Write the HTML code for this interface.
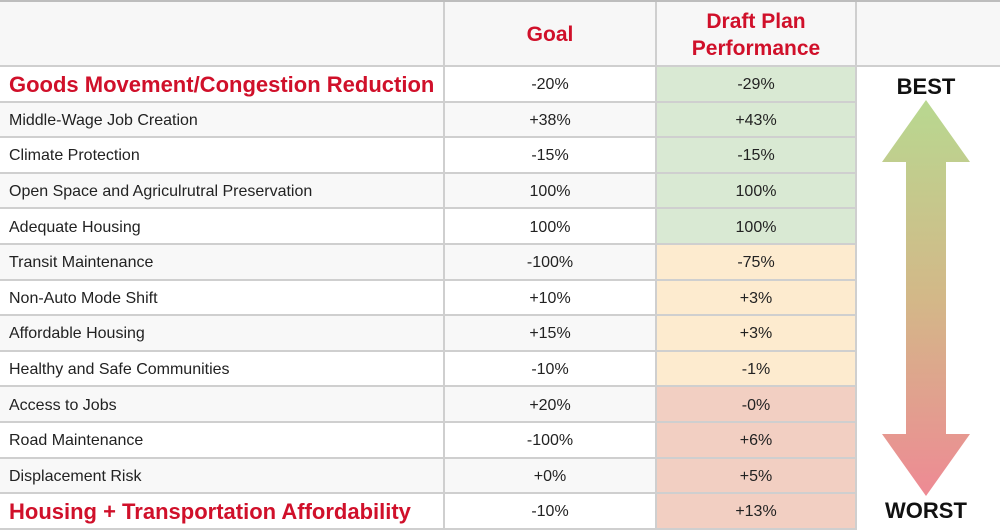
<!DOCTYPE html>
<html><head><meta charset="utf-8"><style>
body{margin:0;width:1000px;height:530px;overflow:hidden;background:#fff;font-family:"Liberation Sans",sans-serif;position:relative}
.c{position:absolute;box-sizing:border-box;display:flex;align-items:center;font-size:16px;color:#222;border-bottom:2px solid #cfcfcf;padding-top:3px}
.lab{padding-left:9px;border-right:2px solid #cfcfcf}
.num{justify-content:center;border-right:2px solid #cfcfcf}
.red{color:#d0102a;font-weight:bold;font-size:22px}
.hdr{background:#f7f7f7;color:#d0102a;font-weight:bold;font-size:21px;text-align:center;justify-content:center;line-height:27px;padding-top:2px}
</style></head><body>
<div style="position:absolute;left:0;top:0;width:1000px;height:2px;background:#bdbdbd"></div>
<div class="c hdr" style="left:0;top:2px;width:445px;height:65px;border-right:2px solid #cfcfcf"></div>
<div class="c hdr" style="left:445px;top:2px;width:212px;height:65px;border-right:2px solid #cfcfcf">Goal</div>
<div class="c hdr" style="left:657px;top:2px;width:200px;height:65px;border-right:2px solid #cfcfcf">Draft Plan<br>Performance</div>
<div class="c hdr" style="left:857px;top:2px;width:143px;height:65px"></div>
<div id="rows"></div>
<div style="position:absolute;left:857px;top:67px;width:143px;height:463px;background:#fff"></div>
<svg style="position:absolute;left:0;top:0" width="1000" height="530">
<defs><linearGradient id="g" x1="0" y1="0" x2="0" y2="1"><stop offset="0" stop-color="#b8d890"/><stop offset="0.5" stop-color="#d3b888"/><stop offset="1" stop-color="#ee8a94"/></linearGradient></defs>
<polygon points="926,100 970,162 946,162 946,434 970,434 926,496 882,434 906,434 906,162 882,162" fill="url(#g)"/>
<text x="926" y="94" text-anchor="middle" font-family="Liberation Sans" font-weight="bold" font-size="22" fill="#111">BEST</text>
<text x="926" y="518" text-anchor="middle" font-family="Liberation Sans" font-weight="bold" font-size="22" fill="#111">WORST</text>
</svg>
<script>
const labels=["Goods Movement/Congestion Reduction","Middle-Wage Job Creation","Climate Protection","Open Space and Agriculrutral Preservation","Adequate Housing","Transit Maintenance","Non-Auto Mode Shift","Affordable Housing","Healthy and Safe Communities","Access to Jobs","Road Maintenance","Displacement Risk","Housing + Transportation Affordability"];
const goals=["-20%","+38%","-15%","100%","100%","-100%","+10%","+15%","-10%","+20%","-100%","+0%","-10%"];
const draft=["-29%","+43%","-15%","100%","100%","-75%","+3%","+3%","-1%","-0%","+6%","+5%","+13%"];
const tiers=["g","g","g","g","g","o","o","o","o","r","r","r","r"];
const tierColor={g:"#d9e9d3",o:"#fdebcf",r:"#f2cfc2"};
const root=document.getElementById('rows');
const top0=67,rh=35.6;
labels.forEach((l,i)=>{
  const y=top0+i*rh;
  const bg=i%2===1?"#f8f8f8":"#fff";
  const red=(i===0||i===labels.length-1);
  const a=document.createElement('div');
  a.className='c lab'+(red?' red':'');
  a.style.cssText=`left:0;top:${y}px;width:445px;height:${rh}px;background:${bg}`;
  a.textContent=l;
  
  
  root.appendChild(a);
  const b=document.createElement('div');
  b.className='c num';
  b.style.cssText=`left:445px;top:${y}px;width:212px;height:${rh}px;background:${bg}`;
  b.textContent=goals[i];
  
  
  root.appendChild(b);
  const d=document.createElement('div');
  d.className='c num';
  d.style.cssText=`left:657px;top:${y}px;width:200px;height:${rh}px;background:${tierColor[tiers[i]]}`;
  d.textContent=draft[i];
  
  
  root.appendChild(d);
});
</script>
</body></html>
